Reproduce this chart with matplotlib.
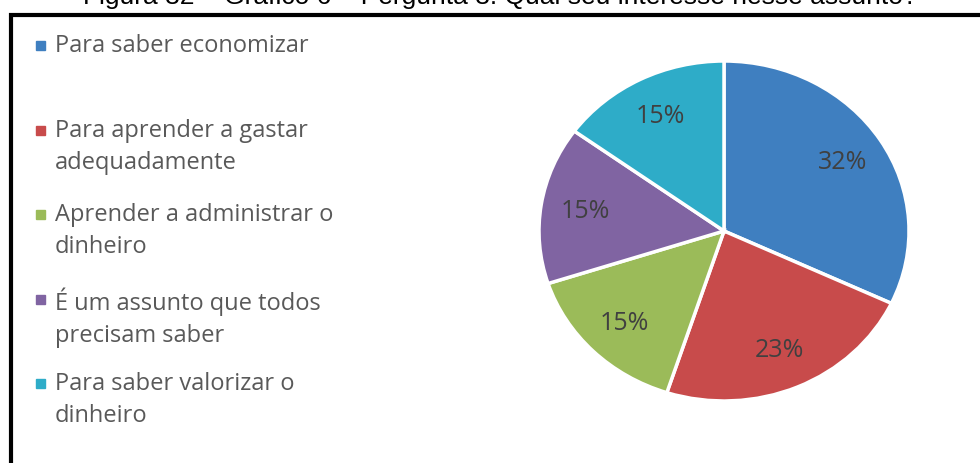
import matplotlib.pyplot as plt
from matplotlib.patches import Rectangle

# data
labels = ['Para saber economizar',
          'Para aprender a gastar\nadequadamente',
          'Aprender a administrar o\ndinheiro',
          'É um assunto que todos\nprecisam saber',
          'Para saber valorizar o\ndinheiro']
values = [32, 23, 15, 15, 15]
colors = ['#3F7FC0', '#C84B4B', '#9BBB59', '#8064A2', '#2EACC8']
caption = 'Figura 32 – Gráfico 6 – Pergunta 3: Qual seu interesse nesse assunto?'

W, H = 980, 464
fig = plt.figure(figsize=(W / 100, H / 100), dpi=100)

# pie axes (slightly wider than tall, like the original)
ax = fig.add_axes([539 / W, (H - 402) / H, 370 / W, 340 / H])
wedges, texts, autotexts = ax.pie(
    values, colors=colors, startangle=90, counterclock=False,
    autopct=lambda p: f'{p:.0f}%', pctdistance=0.76,
    wedgeprops=dict(edgecolor='white', linewidth=2.5),
    textprops=dict(color='#404040', fontsize=18, family='Open Sans'))
ax.set_aspect('auto')
ax.set_xlim(-1, 1)
ax.set_ylim(-1, 1)

# legend drawn by hand (uneven spacing in the original)
legend_y = [46, 131, 215, 300, 384]
for lab, col, y in zip(labels, colors, legend_y):
    fig.patches.append(Rectangle((36 / W, (H - y - 5) / H), 9 / W, 9 / H,
                                 transform=fig.transFigure, color=col))
    fig.text(55 / W, (H - y + 12) / H, lab, color='#595959', fontsize=17,
             family='Open Sans', va='top', ha='left', linespacing=1.42)

# frame
fig.patches.append(Rectangle((11 / W, -0.05), 1.0, (H - 16) / H + 0.05,
                             transform=fig.transFigure, fill=False,
                             edgecolor='black', linewidth=3))

# caption, cut off at the top like the original
fig.text(500 / W, (H - 4) / H, caption, ha='center', va='baseline',
         fontsize=19, family='Liberation Sans', color='black')

fig.savefig('out.png', dpi=100)
